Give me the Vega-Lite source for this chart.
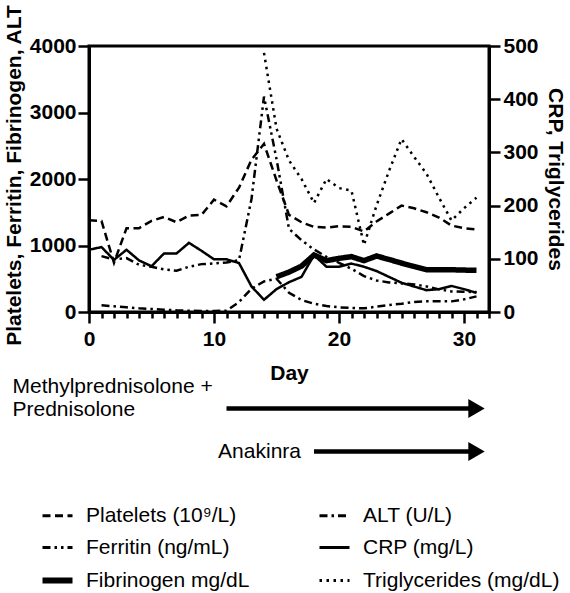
{
  "$schema": "https://vega.github.io/schema/vega-lite/v6.json",
  "background": "white",
  "padding": {"left": 1, "top": 2, "right": 2, "bottom": 2},
  "config": {
    "font": "Liberation Sans",
    "axis": {"grid": false, "domainColor": "black", "domainWidth": 3, "tickColor": "black", "tickWidth": 2.5, "labelColor": "black", "titleColor": "black", "labelFont": "Liberation Sans", "titleFont": "Liberation Sans", "labelFontSize": 21, "titleFontSize": 21, "labelFontWeight": "bold", "titleFontWeight": "bold"},
    "view": {"stroke": "black", "strokeWidth": 3},
    "legend": {"labelFont": "Liberation Sans", "labelFontSize": 21, "labelColor": "black", "labelLimit": 400}
  },
  "datasets": {
    "labs": [
      {"day": 0, "series": "Platelets (10⁹/L)", "value": 1380}, {"day": 1, "series": "Platelets (10⁹/L)", "value": 1370}, {"day": 2, "series": "Platelets (10⁹/L)", "value": 740}, {"day": 3, "series": "Platelets (10⁹/L)", "value": 1260}, {"day": 4, "series": "Platelets (10⁹/L)", "value": 1260}, {"day": 5, "series": "Platelets (10⁹/L)", "value": 1370}, {"day": 6, "series": "Platelets (10⁹/L)", "value": 1430}, {"day": 7, "series": "Platelets (10⁹/L)", "value": 1350}, {"day": 8, "series": "Platelets (10⁹/L)", "value": 1450}, {"day": 9, "series": "Platelets (10⁹/L)", "value": 1460}, {"day": 10, "series": "Platelets (10⁹/L)", "value": 1690}, {"day": 11, "series": "Platelets (10⁹/L)", "value": 1590}, {"day": 12, "series": "Platelets (10⁹/L)", "value": 1870}, {"day": 13, "series": "Platelets (10⁹/L)", "value": 2290}, {"day": 14, "series": "Platelets (10⁹/L)", "value": 2530}, {"day": 15, "series": "Platelets (10⁹/L)", "value": 1980}, {"day": 16, "series": "Platelets (10⁹/L)", "value": 1460}, {"day": 17, "series": "Platelets (10⁹/L)", "value": 1350}, {"day": 18, "series": "Platelets (10⁹/L)", "value": 1280}, {"day": 19, "series": "Platelets (10⁹/L)", "value": 1270}, {"day": 20, "series": "Platelets (10⁹/L)", "value": 1290}, {"day": 21, "series": "Platelets (10⁹/L)", "value": 1280}, {"day": 22, "series": "Platelets (10⁹/L)", "value": 1210}, {"day": 23, "series": "Platelets (10⁹/L)", "value": 1360}, {"day": 24, "series": "Platelets (10⁹/L)", "value": 1480}, {"day": 25, "series": "Platelets (10⁹/L)", "value": 1600}, {"day": 26, "series": "Platelets (10⁹/L)", "value": 1560}, {"day": 27, "series": "Platelets (10⁹/L)", "value": 1500}, {"day": 28, "series": "Platelets (10⁹/L)", "value": 1420}, {"day": 29, "series": "Platelets (10⁹/L)", "value": 1300}, {"day": 30, "series": "Platelets (10⁹/L)", "value": 1260}, {"day": 31, "series": "Platelets (10⁹/L)", "value": 1240},
      {"day": 1, "series": "ALT (U/L)", "value": 100}, {"day": 2, "series": "ALT (U/L)", "value": 85}, {"day": 3, "series": "ALT (U/L)", "value": 70}, {"day": 4, "series": "ALT (U/L)", "value": 55}, {"day": 5, "series": "ALT (U/L)", "value": 45}, {"day": 6, "series": "ALT (U/L)", "value": 35}, {"day": 7, "series": "ALT (U/L)", "value": 25}, {"day": 8, "series": "ALT (U/L)", "value": 20}, {"day": 9, "series": "ALT (U/L)", "value": 15}, {"day": 10, "series": "ALT (U/L)", "value": 15}, {"day": 11, "series": "ALT (U/L)", "value": 20}, {"day": 12, "series": "ALT (U/L)", "value": 150}, {"day": 13, "series": "ALT (U/L)", "value": 350}, {"day": 14, "series": "ALT (U/L)", "value": 460}, {"day": 15, "series": "ALT (U/L)", "value": 500}, {"day": 16, "series": "ALT (U/L)", "value": 290}, {"day": 17, "series": "ALT (U/L)", "value": 180}, {"day": 18, "series": "ALT (U/L)", "value": 125}, {"day": 19, "series": "ALT (U/L)", "value": 90}, {"day": 20, "series": "ALT (U/L)", "value": 70}, {"day": 21, "series": "ALT (U/L)", "value": 60}, {"day": 22, "series": "ALT (U/L)", "value": 55}, {"day": 23, "series": "ALT (U/L)", "value": 80}, {"day": 24, "series": "ALT (U/L)", "value": 105}, {"day": 25, "series": "ALT (U/L)", "value": 125}, {"day": 26, "series": "ALT (U/L)", "value": 150}, {"day": 27, "series": "ALT (U/L)", "value": 160}, {"day": 28, "series": "ALT (U/L)", "value": 160}, {"day": 29, "series": "ALT (U/L)", "value": 160}, {"day": 30, "series": "ALT (U/L)", "value": 190}, {"day": 31, "series": "ALT (U/L)", "value": 235},
      {"day": 1, "series": "Ferritin (ng/mL)", "value": 840}, {"day": 2, "series": "Ferritin (ng/mL)", "value": 790}, {"day": 3, "series": "Ferritin (ng/mL)", "value": 810}, {"day": 4, "series": "Ferritin (ng/mL)", "value": 710}, {"day": 5, "series": "Ferritin (ng/mL)", "value": 680}, {"day": 6, "series": "Ferritin (ng/mL)", "value": 640}, {"day": 7, "series": "Ferritin (ng/mL)", "value": 620}, {"day": 8, "series": "Ferritin (ng/mL)", "value": 680}, {"day": 9, "series": "Ferritin (ng/mL)", "value": 720}, {"day": 10, "series": "Ferritin (ng/mL)", "value": 730}, {"day": 11, "series": "Ferritin (ng/mL)", "value": 745}, {"day": 12, "series": "Ferritin (ng/mL)", "value": 780}, {"day": 13, "series": "Ferritin (ng/mL)", "value": 1700}, {"day": 14, "series": "Ferritin (ng/mL)", "value": 3240}, {"day": 15, "series": "Ferritin (ng/mL)", "value": 2300}, {"day": 16, "series": "Ferritin (ng/mL)", "value": 1250}, {"day": 17, "series": "Ferritin (ng/mL)", "value": 1080}, {"day": 18, "series": "Ferritin (ng/mL)", "value": 940}, {"day": 19, "series": "Ferritin (ng/mL)", "value": 830}, {"day": 20, "series": "Ferritin (ng/mL)", "value": 740}, {"day": 21, "series": "Ferritin (ng/mL)", "value": 650}, {"day": 22, "series": "Ferritin (ng/mL)", "value": 540}, {"day": 23, "series": "Ferritin (ng/mL)", "value": 475}, {"day": 24, "series": "Ferritin (ng/mL)", "value": 445}, {"day": 25, "series": "Ferritin (ng/mL)", "value": 430}, {"day": 26, "series": "Ferritin (ng/mL)", "value": 415}, {"day": 27, "series": "Ferritin (ng/mL)", "value": 385}, {"day": 28, "series": "Ferritin (ng/mL)", "value": 340}, {"day": 29, "series": "Ferritin (ng/mL)", "value": 310}, {"day": 30, "series": "Ferritin (ng/mL)", "value": 305}, {"day": 31, "series": "Ferritin (ng/mL)", "value": 300},
      {"day": 15, "series": "Fibrinogen mg/dL", "value": 530}, {"day": 16, "series": "Fibrinogen mg/dL", "value": 600}, {"day": 17, "series": "Fibrinogen mg/dL", "value": 690}, {"day": 18, "series": "Fibrinogen mg/dL", "value": 857}, {"day": 19, "series": "Fibrinogen mg/dL", "value": 772}, {"day": 20, "series": "Fibrinogen mg/dL", "value": 807}, {"day": 21, "series": "Fibrinogen mg/dL", "value": 832}, {"day": 22, "series": "Fibrinogen mg/dL", "value": 772}, {"day": 23, "series": "Fibrinogen mg/dL", "value": 842}, {"day": 24, "series": "Fibrinogen mg/dL", "value": 790}, {"day": 25, "series": "Fibrinogen mg/dL", "value": 735}, {"day": 26, "series": "Fibrinogen mg/dL", "value": 685}, {"day": 27, "series": "Fibrinogen mg/dL", "value": 635}, {"day": 28, "series": "Fibrinogen mg/dL", "value": 635}, {"day": 29, "series": "Fibrinogen mg/dL", "value": 635}, {"day": 30, "series": "Fibrinogen mg/dL", "value": 630}, {"day": 31, "series": "Fibrinogen mg/dL", "value": 627},
      {"day": 0, "series": "CRP (mg/L)", "value": 117}, {"day": 1, "series": "CRP (mg/L)", "value": 122}, {"day": 2, "series": "CRP (mg/L)", "value": 98}, {"day": 3, "series": "CRP (mg/L)", "value": 117}, {"day": 4, "series": "CRP (mg/L)", "value": 97}, {"day": 5, "series": "CRP (mg/L)", "value": 86}, {"day": 6, "series": "CRP (mg/L)", "value": 110}, {"day": 7, "series": "CRP (mg/L)", "value": 110}, {"day": 8, "series": "CRP (mg/L)", "value": 130}, {"day": 9, "series": "CRP (mg/L)", "value": 115}, {"day": 10, "series": "CRP (mg/L)", "value": 99}, {"day": 11, "series": "CRP (mg/L)", "value": 99}, {"day": 12, "series": "CRP (mg/L)", "value": 92}, {"day": 13, "series": "CRP (mg/L)", "value": 48}, {"day": 14, "series": "CRP (mg/L)", "value": 23}, {"day": 15, "series": "CRP (mg/L)", "value": 43}, {"day": 16, "series": "CRP (mg/L)", "value": 56}, {"day": 17, "series": "CRP (mg/L)", "value": 66}, {"day": 18, "series": "CRP (mg/L)", "value": 107}, {"day": 19, "series": "CRP (mg/L)", "value": 85}, {"day": 20, "series": "CRP (mg/L)", "value": 85}, {"day": 21, "series": "CRP (mg/L)", "value": 91}, {"day": 22, "series": "CRP (mg/L)", "value": 85}, {"day": 23, "series": "CRP (mg/L)", "value": 77}, {"day": 24, "series": "CRP (mg/L)", "value": 66}, {"day": 25, "series": "CRP (mg/L)", "value": 55}, {"day": 26, "series": "CRP (mg/L)", "value": 48}, {"day": 27, "series": "CRP (mg/L)", "value": 41}, {"day": 28, "series": "CRP (mg/L)", "value": 43}, {"day": 29, "series": "CRP (mg/L)", "value": 49}, {"day": 30, "series": "CRP (mg/L)", "value": 43}, {"day": 31, "series": "CRP (mg/L)", "value": 36},
      {"day": 14, "series": "Triglycerides (mg/dL)", "value": 487}, {"day": 15, "series": "Triglycerides (mg/dL)", "value": 345}, {"day": 16, "series": "Triglycerides (mg/dL)", "value": 285}, {"day": 17, "series": "Triglycerides (mg/dL)", "value": 250}, {"day": 18, "series": "Triglycerides (mg/dL)", "value": 205}, {"day": 19, "series": "Triglycerides (mg/dL)", "value": 250}, {"day": 20, "series": "Triglycerides (mg/dL)", "value": 233}, {"day": 21, "series": "Triglycerides (mg/dL)", "value": 228}, {"day": 22, "series": "Triglycerides (mg/dL)", "value": 126}, {"day": 23, "series": "Triglycerides (mg/dL)", "value": 200}, {"day": 24, "series": "Triglycerides (mg/dL)", "value": 265}, {"day": 25, "series": "Triglycerides (mg/dL)", "value": 325}, {"day": 26, "series": "Triglycerides (mg/dL)", "value": 292}, {"day": 27, "series": "Triglycerides (mg/dL)", "value": 260}, {"day": 28, "series": "Triglycerides (mg/dL)", "value": 215}, {"day": 29, "series": "Triglycerides (mg/dL)", "value": 172}, {"day": 30, "series": "Triglycerides (mg/dL)", "value": 195}, {"day": 31, "series": "Triglycerides (mg/dL)", "value": 215}
    ],
    "therapy": [
      {"therapy": "Methylprednisolone + Prednisolone", "label": "Methylprednisolone +\nPrednisolone", "start": 11, "end": 31},
      {"therapy": "Anakinra", "label": "Anakinra", "start": 18, "end": 31}
    ]
  },
  "bounds": "flush",
  "spacing": 75,
  "vconcat": [
    {
      "width": 400,
      "height": 266,
      "data": {"name": "labs"},
      "encoding": {
        "x": {"field": "day", "type": "quantitative", "scale": {"domain": [0, 32], "nice": false},
          "axis": {"values": [0,1,2,3,4,5,6,7,8,9,10,11,12,13,14,15,16,17,18,19,20,21,22,23,24,25,26,27,28,29,30,31,32],
            "labelExpr": "datum.value % 10 === 0 ? datum.label : ''",
            "tickSize": {"condition": {"test": "datum.value % 10 === 0", "value": 11}, "value": 6},
            "labelPadding": 5, "labelOverlap": false, "labelFlush": false, "title": "Day", "titlePadding": 13}},
        "strokeDash": {"field": "series", "type": "nominal",
          "scale": {"domain": ["Platelets (10⁹/L)", "ALT (U/L)", "Ferritin (ng/mL)", "CRP (mg/L)", "Fibrinogen mg/dL", "Triglycerides (mg/dL)"],
            "range": [[8, 4.5], [8, 4, 2.5, 4], [8, 4, 2.5, 4, 2.5, 4], [1, 0], [1, 0], [2.5, 4.5]]},
          "legend": {"title": null, "orient": "none", "direction": "horizontal", "legendX": -42, "legendY": 459, "columns": 2, "symbolType": "stroke", "symbolSize": 900, "symbolStrokeColor": "black", "symbolStrokeWidth": 3, "columnPadding": 63, "rowPadding": 10, "labelOffset": 18,
            "encode": {"symbols": {"update": {"strokeWidth": {"signal": "datum.value === 'Fibrinogen mg/dL' ? 6 : 3"}}}}}},
        "strokeWidth": {"condition": {"test": "datum.series === 'Fibrinogen mg/dL'", "value": 5.5}, "value": 2.5}
      },
      "layer": [
        {
          "transform": [{"filter": {"field": "series", "oneOf": ["Platelets (10⁹/L)", "ALT (U/L)", "Ferritin (ng/mL)", "Fibrinogen mg/dL"]}}],
          "mark": {"type": "line", "color": "black"},
          "encoding": {"y": {"field": "value", "type": "quantitative", "scale": {"domain": [0, 4000], "nice": false},
            "axis": {"orient": "left", "values": [0, 1000, 2000, 3000, 4000], "format": "d", "tickSize": 11, "labelPadding": 2, "title": "Platelets, Ferritin, Fibrinogen, ALT", "titlePadding": 5, "titleY": 129}}}
        },
        {
          "transform": [{"filter": {"field": "series", "oneOf": ["CRP (mg/L)", "Triglycerides (mg/dL)"]}}],
          "mark": {"type": "line", "color": "black"},
          "encoding": {"y": {"field": "value", "type": "quantitative", "scale": {"domain": [0, 500], "nice": false},
            "axis": {"orient": "right", "values": [0, 100, 200, 300, 400, 500], "format": "d", "tickSize": 11, "labelPadding": 3, "title": "CRP, Triglycerides", "titlePadding": 6}}}
        }
      ],
      "resolve": {"scale": {"y": "independent"}}
    },
    {
      "width": 400,
      "height": 86,
      "data": {"name": "therapy"},
      "view": {"stroke": null},
      "encoding": {
        "y": {"field": "therapy", "type": "nominal", "scale": {"type": "point", "domain": ["Methylprednisolone + Prednisolone", "Anakinra"], "padding": 0.5}, "axis": null}
      },
      "layer": [
        {
          "mark": {"type": "rule", "strokeWidth": 4.5, "color": "black"},
          "encoding": {"x": {"field": "start", "type": "quantitative", "scale": {"domain": [0, 32], "nice": false}, "axis": null}, "x2": {"field": "end"}}
        },
        {
          "mark": {"type": "point", "shape": "triangle-right", "filled": true, "color": "black", "opacity": 1, "size": 360},
          "encoding": {"x": {"field": "end", "type": "quantitative"}}
        },
        {
          "transform": [{"filter": {"field": "therapy", "equal": "Methylprednisolone + Prednisolone"}}],
          "mark": {"type": "text", "align": "left", "baseline": "middle", "dx": -214, "dy": -22, "fontSize": 21, "lineBreak": "\n", "lineHeight": 23, "color": "black"},
          "encoding": {"x": {"field": "start", "type": "quantitative"}, "text": {"field": "label"}}
        },
        {
          "transform": [{"filter": {"field": "therapy", "equal": "Anakinra"}}],
          "mark": {"type": "text", "align": "right", "baseline": "middle", "dx": -13, "fontSize": 21, "color": "black"},
          "encoding": {"x": {"field": "start", "type": "quantitative"}, "text": {"field": "label"}}
        }
      ]
    }
  ]
}
